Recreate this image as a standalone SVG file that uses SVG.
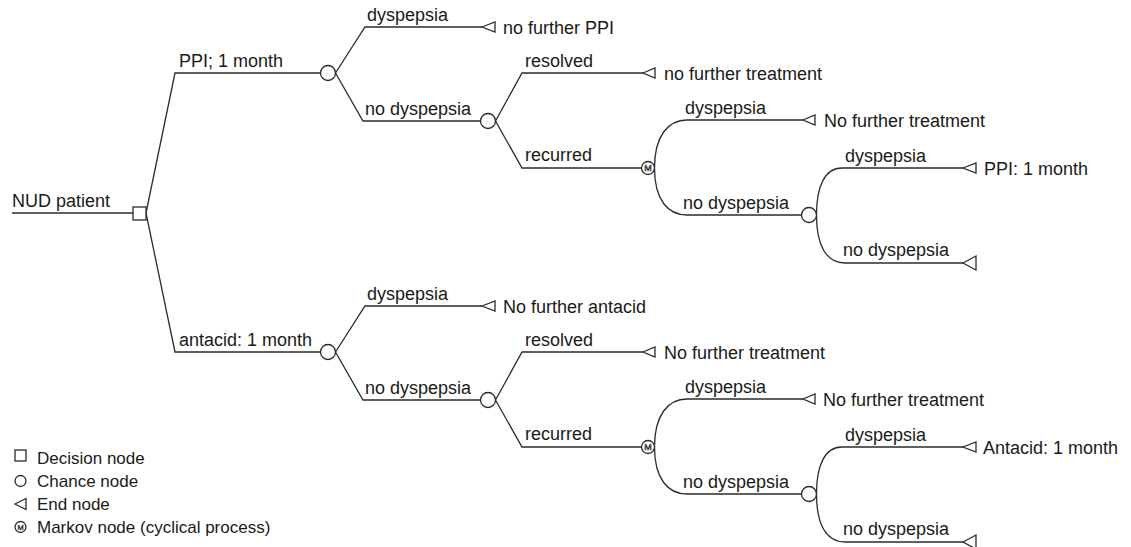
<svg xmlns="http://www.w3.org/2000/svg" width="1131" height="547" viewBox="0 0 1131 547">
<defs>
<style>
.ln{fill:none;stroke:#2b2b2b;stroke-width:1.3}
.nd{fill:#fff;stroke:#2b2b2b;stroke-width:1.3}
.t{font-family:"Liberation Sans",Arial,sans-serif;font-size:18px;fill:#1a1a1a}
.lg{font-family:"Liberation Sans",Arial,sans-serif;font-size:17px;fill:#1a1a1a}
.m{font-family:"Liberation Sans",Arial,sans-serif;font-size:9px;fill:none;stroke:#2b2b2b;stroke-width:0.6;text-anchor:middle}
</style>
</defs>
<rect width="1131" height="547" fill="#fff"/>
<g id="connectors">
<path class="ln" d="M12 213H133"/>
<path class="ln" d="M146 213L175 73H320.5"/>
<path class="ln" d="M146 213L175 352H320.5"/>
<path class="ln" d="M335.5 73L365 27H482"/>
<path class="ln" d="M335.5 73L363 121H480.5"/>
<path class="ln" d="M495.5 121L522 73H643"/>
<path class="ln" d="M495.5 121L522 168H641.5"/>
<path class="ln" d="M803 120H687C668 120 654.5 136 654.5 168C654.5 200 668 215 687 215H801.5"/>
<path class="ln" d="M963 168H842C825 168 816.5 186 816.5 215C816.5 245 826 263 845 263H963"/>
<path class="ln" d="M335.5 352L365 306H482"/>
<path class="ln" d="M335.5 352L363 400H480.5"/>
<path class="ln" d="M495.5 400L522 352H643"/>
<path class="ln" d="M495.5 400L522 447H641.5"/>
<path class="ln" d="M803 399H687C668 399 654.5 415 654.5 447C654.5 479 668 494 687 494H801.5"/>
<path class="ln" d="M963 447H842C825 447 816.5 465 816.5 494C816.5 524 826 542 845 542H963"/>
<g id="branch-labels">
<text class="t" x="12" y="207">NUD patient</text>
<text class="t" x="179" y="67">PPI; 1 month</text>
<text class="t" x="367" y="21">dyspepsia</text>
<text class="t" x="365" y="115">no dyspepsia</text>
<text class="t" x="525" y="67">resolved</text>
<text class="t" x="525" y="161">recurred</text>
<text class="t" x="685" y="114">dyspepsia</text>
<text class="t" x="683" y="209">no dyspepsia</text>
<text class="t" x="845" y="162">dyspepsia</text>
<text class="t" x="843" y="256">no dyspepsia</text>
<text class="t" x="179" y="346">antacid: 1 month</text>
<text class="t" x="367" y="300">dyspepsia</text>
<text class="t" x="365" y="394">no dyspepsia</text>
<text class="t" x="525" y="346">resolved</text>
<text class="t" x="525" y="440">recurred</text>
<text class="t" x="685" y="393">dyspepsia</text>
<text class="t" x="683" y="488">no dyspepsia</text>
<text class="t" x="845" y="441">dyspepsia</text>
<text class="t" x="843" y="535">no dyspepsia</text>
</g>
</g>
<g id="decision"><rect class="nd" x="133" y="207" width="13" height="13"/></g>
<g id="chance-ppi"><circle class="nd" cx="328" cy="73" r="7.5"/></g>
<g id="chance-ppi-nodys"><circle class="nd" cx="488" cy="121" r="7.5"/></g>
<g id="markov-ppi"><circle class="nd" cx="648" cy="168" r="6.5"/><text class="m" x="648" y="171.3">M</text></g>
<g id="chance-ppi-markov"><circle class="nd" cx="809" cy="215" r="7.5"/></g>
<g id="end-ppi-1"><path class="nd" d="M482 27L495 22V32Z"/><text class="t" x="503" y="34">no further PPI</text></g>
<g id="end-ppi-2"><path class="nd" d="M643 73L655 68V78Z"/><text class="t" x="664" y="80">no further treatment</text></g>
<g id="end-ppi-3"><path class="nd" d="M803 120L815 115V125Z"/><text class="t" x="824" y="127">No further treatment</text></g>
<g id="end-ppi-4"><path class="nd" d="M963 168L976 163V173Z"/><text class="t" x="984" y="175">PPI: 1 month</text></g>
<g id="end-ppi-5"><path class="nd" d="M963 263L976 256V270Z"/></g>
<g id="chance-antacid"><circle class="nd" cx="328" cy="352" r="7.5"/></g>
<g id="chance-antacid-nodys"><circle class="nd" cx="488" cy="400" r="7.5"/></g>
<g id="markov-antacid"><circle class="nd" cx="648" cy="447" r="6.5"/><text class="m" x="648" y="450.3">M</text></g>
<g id="chance-antacid-markov"><circle class="nd" cx="809" cy="494" r="7.5"/></g>
<g id="end-antacid-1"><path class="nd" d="M482 306L495 301V311Z"/><text class="t" x="503" y="313">No further antacid</text></g>
<g id="end-antacid-2"><path class="nd" d="M643 352L655 347V357Z"/><text class="t" x="664" y="359">No further treatment</text></g>
<g id="end-antacid-3"><path class="nd" d="M803 399L815 394V404Z"/><text class="t" x="823" y="406">No further treatment</text></g>
<g id="end-antacid-4"><path class="nd" d="M963 447L976 442V452Z"/><text class="t" x="983" y="454">Antacid: 1 month</text></g>
<g id="end-antacid-5"><path class="nd" d="M963 542L976 535V549Z"/></g>
<g id="legend">
<rect class="nd" x="15" y="450" width="11" height="11"/>
<text class="lg" x="37" y="464">Decision node</text>
<circle class="nd" cx="20.5" cy="481" r="5.5"/>
<text class="lg" x="37" y="487">Chance node</text>
<path class="nd" d="M15 504L26 498.5V509.5Z"/>
<text class="lg" x="37" y="510">End node</text>
<circle class="nd" cx="20.5" cy="527" r="5.5"/>
<text class="m" x="20.5" y="530" style="font-size:7.5px;stroke-width:0.5">M</text>
<text class="lg" x="37" y="533">Markov node (cyclical process)</text>
</g>
</svg>
